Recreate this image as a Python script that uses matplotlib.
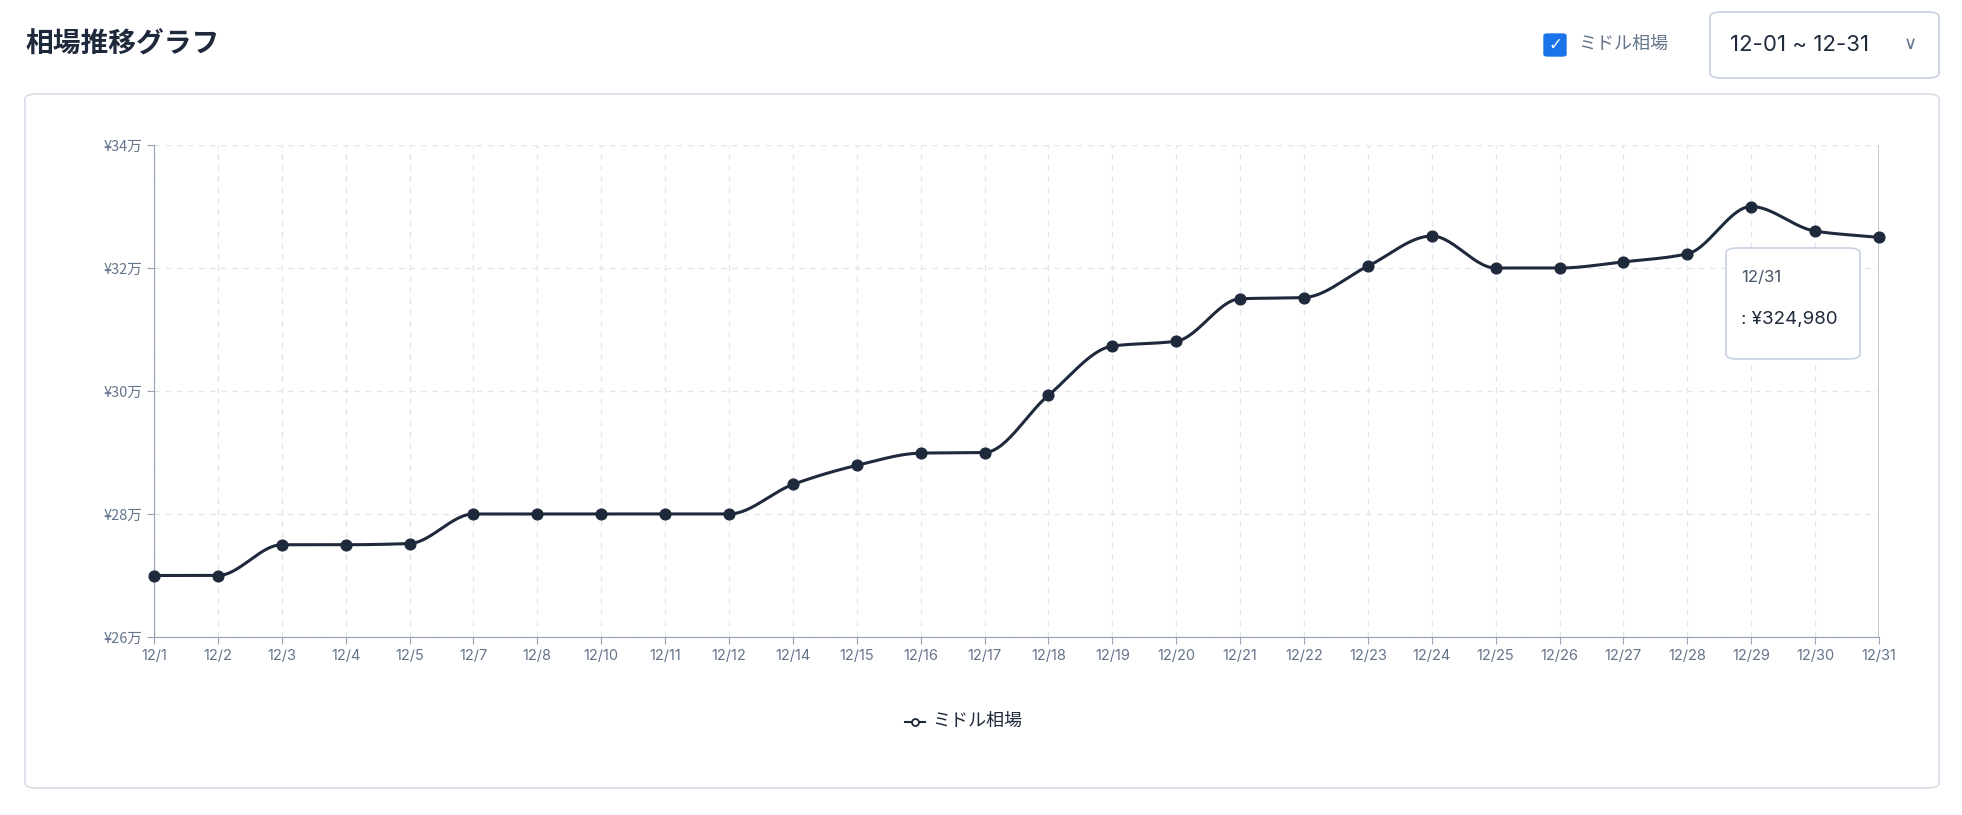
import matplotlib
matplotlib.use("Agg")
import matplotlib.pyplot as plt
import numpy as np
from matplotlib.patches import FancyBboxPatch

plt.rcParams['font.family'] = ['Noto Sans CJK JP', 'DejaVu Sans']

dates = ["12/1","12/2","12/3","12/4","12/5","12/7","12/8","12/10","12/11","12/12",
         "12/14","12/15","12/16","12/17","12/18","12/19","12/20","12/21","12/22","12/23",
         "12/24","12/25","12/26","12/27","12/28","12/29","12/30","12/31"]
prices = [270000,270000,275000,275000,275200,280000,280000,280000,280000,280000,
          284800,287900,289900,290000,299300,307300,308100,315000,315200,320300,
          325200,320000,320000,321000,322300,330000,326000,324980]
yticks = [260000,280000,300000,320000,340000]
ytick_labels = ["¥26万","¥28万","¥30万","¥32万","¥34万"]

W, H = 1962, 815
fig = plt.figure(figsize=(W/100, H/100), dpi=100)
fig.patch.set_facecolor("white")

def fx(px): return px / W
def fy(py): return 1 - py / H

# card
fig.patches.append(FancyBboxPatch((fx(25), fy(788)), fx(1939) - fx(25), fy(94) - fy(788),
    boxstyle="round,pad=0,rounding_size=0.006", transform=fig.transFigure,
    facecolor="white", edgecolor="#d9dee7", lw=1.2, zorder=-5))
fig.text(fx(25), fy(44), "相場推移グラフ", fontsize=20, fontweight="bold", color="#1e293b", va="center")
fig.patches.append(FancyBboxPatch((fx(1544), fy(56)), fx(22), fy(34) - fy(56),
    boxstyle="round,pad=0,rounding_size=0.002", transform=fig.transFigure,
    facecolor="#1a73e8", edgecolor="#1a73e8", zorder=2))
fig.text(fx(1555), fy(45), "✓", fontsize=12, color="white", ha="center", va="center",
         fontweight="bold", family=['DejaVu Sans'])
fig.text(fx(1578), fy(44), "ミドル相場", fontsize=13, color="#64748b", va="center")
fig.patches.append(FancyBboxPatch((fx(1710), fy(78)), fx(1939) - fx(1710), fy(12) - fy(78),
    boxstyle="round,pad=0,rounding_size=0.006", transform=fig.transFigure,
    facecolor="white", edgecolor="#c8d1e0", lw=1.2))
fig.text(fx(1730), fy(45), "12-01 ~ 12-31", fontsize=16, color="#1e293b", va="center",
         family=['Inter', 'DejaVu Sans'])
fig.text(fx(1910), fy(44), "∨", fontsize=13, color="#64748b", va="center", ha="center",
         family=['DejaVu Sans'])

ax = fig.add_axes([fx(154), fy(637), fx(1879) - fx(154), fy(145) - fy(637)])
ax.set_zorder(1)
ax.patch.set_alpha(0)
x = np.arange(len(dates))
y = np.array(prices, dtype=float)

# monotone cubic (Fritsch-Carlson) rendering of the line
d = np.diff(y)
m = np.zeros_like(y)
m[0], m[-1] = d[0], d[-1]
for i in range(1, len(y) - 1):
    m[i] = 0 if d[i-1] * d[i] <= 0 else 2 / (1/d[i-1] + 1/d[i])
xs, ys = [], []
for i in range(len(y) - 1):
    t = np.linspace(0, 1, 30)
    h00 = 2*t**3 - 3*t**2 + 1; h10 = t**3 - 2*t**2 + t
    h01 = -2*t**3 + 3*t**2; h11 = t**3 - t**2
    xs.extend(x[i] + t); ys.extend(h00*y[i] + h10*m[i] + h01*y[i+1] + h11*m[i+1])
ax.plot(xs, ys, color="#1e293b", lw=2.2, zorder=3, clip_on=False)
ax.scatter(x, y, s=60, color="#1e293b", zorder=4, clip_on=False)

ax.set_xlim(0, len(dates) - 1)
ax.set_ylim(260000, 340000)
ax.set_xticks(x)
ax.set_xticklabels(dates, family=['Inter', 'DejaVu Sans'])
ax.set_yticks(yticks)
ax.set_yticklabels(ytick_labels)
ax.tick_params(labelsize=10.5, length=5, colors="#94a3b8", labelcolor="#64748b")
ax.grid(True, color="#e2e6ec", ls=(0, (4, 4)), lw=1)
for s in ["top", "right"]:
    ax.spines[s].set_visible(False)
for s in ["left", "bottom"]:
    ax.spines[s].set_color("#94a3b8")
ax.axvline(x[-1], color="#b8c0cc", lw=1.2, zorder=2)

# tooltip
fig.patches.append(FancyBboxPatch((fx(1726), fy(359)), fx(1860) - fx(1726), fy(248) - fy(359),
    boxstyle="round,pad=0,rounding_size=0.006", transform=fig.transFigure,
    facecolor="white", edgecolor="#c8d1e0", lw=1.2, zorder=10))
fig.text(fx(1741), fy(278), dates[-1], fontsize=12, color="#475569", va="center", zorder=11,
         family=['Inter', 'DejaVu Sans'])
fig.text(fx(1741), fy(320), f": ¥{prices[-1]:,}", fontsize=13.5, color="#1e293b", va="center",
         zorder=11, family=['Inter', 'DejaVu Sans'])

# legend
fig.lines.append(plt.Line2D([fx(905), fx(925)], [fy(722)] * 2, transform=fig.transFigure,
                            color="#1e293b", lw=1.5))
fig.lines.append(plt.Line2D([fx(915)], [fy(722)], transform=fig.transFigure, marker="o",
                            markersize=5, markerfacecolor="white", markeredgecolor="#1e293b", mew=1.3))
fig.text(fx(932), fy(721), "ミドル相場", fontsize=13, color="#1e293b", va="center")

fig.savefig("out.png", dpi=100)
